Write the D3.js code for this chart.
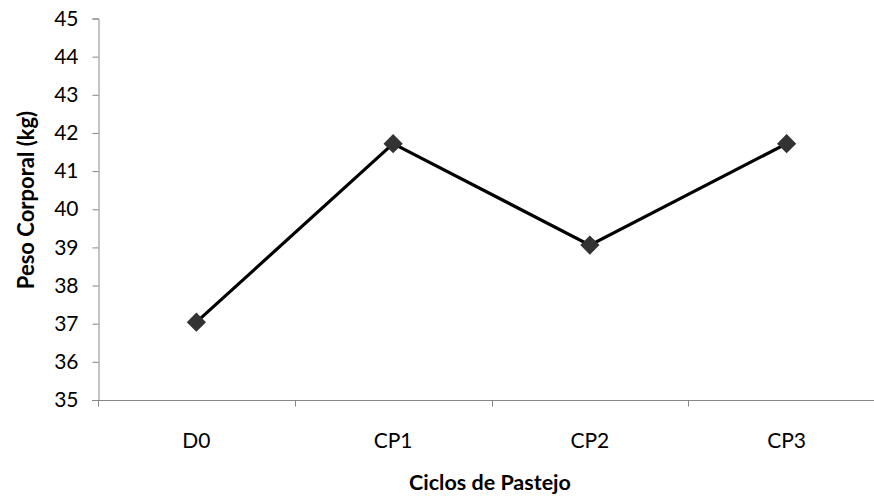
<!DOCTYPE html>
<html>
<head>
<meta charset="utf-8">
<script src="https://cdn.jsdelivr.net/npm/d3@7"></script>
<style>
  html, body { margin: 0; padding: 0; background: #fff; }
  svg { display: block; }
  text { font-family: Lato, "Open Sans", sans-serif; fill: #000; }
</style>
</head>
<body>
<svg id="chart" width="874" height="496"></svg>
<script>
// Body weight across grazing cycles
const categories = ["D0", "CP1", "CP2", "CP3"];
const weights = [37.04, 41.72, 39.06, 41.72];
const yTicks = [35, 36, 37, 38, 39, 40, 41, 42, 43, 44, 45];

const svg = d3.select("#chart");
const margin = { left: 98, top: 18.5, right: -11, bottom: 96 };
const W = 874, H = 496;

const x = d3.scaleBand()
  .domain(categories)
  .range([margin.left, W - margin.right])
  .paddingInner(0).paddingOuter(0);

const y = d3.scaleLinear()
  .domain([35, 45])
  .range([H - margin.bottom, margin.top]);

const axisColor = "#868686";

// Y axis
const yAxis = svg.append("g")
  .attr("transform", `translate(${margin.left + 0.5},0)`)
  .call(d3.axisLeft(y).tickValues(yTicks).tickSize(6).tickPadding(14).tickFormat(d3.format("d")));
yAxis.select(".domain").attr("stroke", axisColor);
yAxis.selectAll(".tick line").attr("stroke", axisColor);
yAxis.selectAll(".tick text").attr("font-size", 21).attr("fill", "#000");

// X axis with ticks on band boundaries
const xAxisG = svg.append("g")
  .attr("transform", `translate(0,${y(35) + 0.5})`);
xAxisG.append("line")
  .attr("x1", margin.left - 6).attr("x2", W)
  .attr("stroke", axisColor);
const boundaries = categories.map(c => x(c));
xAxisG.selectAll("line.tk")
  .data(boundaries)
  .join("line")
  .attr("class", "tk")
  .attr("x1", d => Math.round(d) + 0.5).attr("x2", d => Math.round(d) + 0.5)
  .attr("y1", 0).attr("y2", 6)
  .attr("stroke", axisColor);
xAxisG.selectAll("text")
  .data(categories)
  .join("text")
  .attr("x", d => x(d) + x.bandwidth() / 2)
  .attr("y", 47.5)
  .attr("text-anchor", "middle")
  .attr("font-size", 21)
  .text(d => d);

// Line
const line = d3.line()
  .x((d, i) => x(categories[i]) + x.bandwidth() / 2)
  .y(d => y(d));
svg.append("path")
  .datum(weights)
  .attr("d", line)
  .attr("fill", "none")
  .attr("stroke", "#000")
  .attr("stroke-width", 3.2)
  .attr("stroke-linejoin", "miter");

// Diamond markers
const sym = d3.symbol().type(d3.symbolSquare).size(185);
svg.selectAll("path.mk")
  .data(weights)
  .join("path")
  .attr("class", "mk")
  .attr("d", sym)
  .attr("fill", "#333")
  .attr("transform", (d, i) =>
    `translate(${x(categories[i]) + x.bandwidth() / 2},${y(d)}) rotate(45)`);

// Axis titles
svg.append("text")
  .attr("x", 490)
  .attr("y", 490)
  .attr("text-anchor", "middle")
  .attr("font-size", 21.5)
  .attr("font-weight", "bold")
  .text("Ciclos de Pastejo");

svg.append("text")
  .attr("transform", `translate(34,200) rotate(-90)`)
  .attr("text-anchor", "middle")
  .attr("font-size", 22)
  .attr("font-weight", "bold")
  .text("Peso Corporal (kg)");
</script>
</body>
</html>
